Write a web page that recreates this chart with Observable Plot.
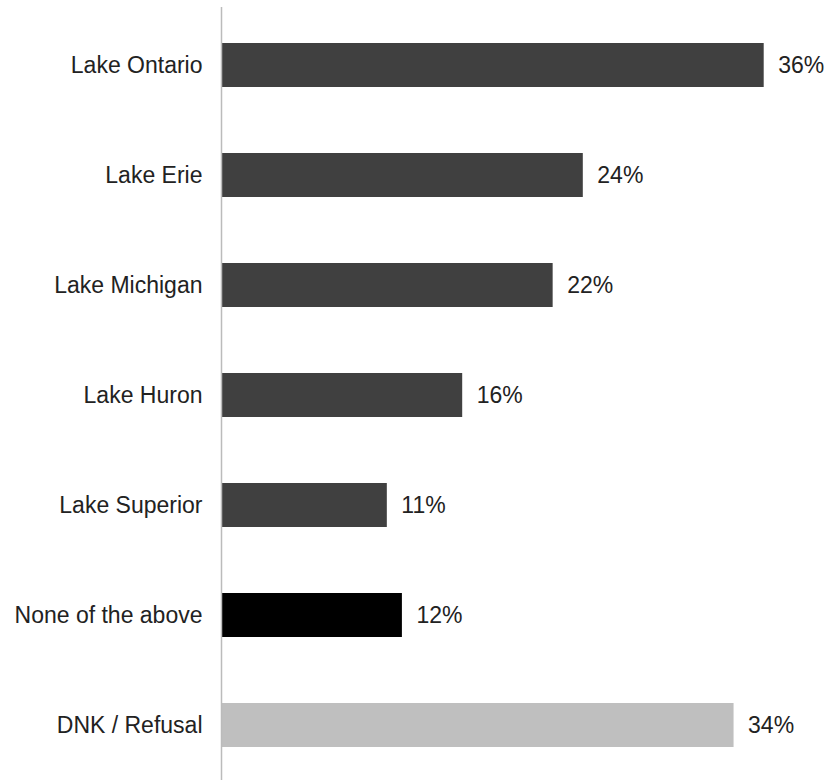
<!DOCTYPE html>
<html>
<head>
<meta charset="utf-8">
<script src="https://cdn.jsdelivr.net/npm/d3@7"></script>
<script src="https://cdn.jsdelivr.net/npm/@observablehq/plot@0.6"></script>
<style>
  html, body { margin: 0; padding: 0; background: #fff; }
  #chart svg { display: block; }
</style>
</head>
<body>
<div id="chart"></div>
<script>
const categories = ["Lake Ontario", "Lake Erie", "Lake Michigan", "Lake Huron", "Lake Superior", "None of the above", "DNK / Refusal"];
const values = [36, 24, 22, 16, 11, 12, 34];
const colors = ["#404040", "#404040", "#404040", "#404040", "#404040", "#000000", "#bfbfbf"];

const data = categories.map((c, i) => ({category: c, value: values[i], color: colors[i]}));

const chart = Plot.plot({
  width: 827,
  height: 780,
  marginLeft: 221,
  marginRight: 3,
  marginTop: 7,
  marginBottom: -2,
  style: {fontFamily: "'Liberation Sans', Arial, sans-serif", fontSize: "23px", color: "#222"},
  x: {domain: [0, 40], axis: null},
  y: {domain: categories, paddingInner: 0.6, paddingOuter: 0.3, label: null, tickSize: 0, tickPadding: 19},
  marks: [
    Plot.barX(data, {y: "category", x: "value", fill: "color"}),
    Plot.ruleX([0], {stroke: "#bbbbbb", strokeWidth: 1.5}),
    Plot.text(data, {y: "category", x: "value", text: d => d.value + "%", textAnchor: "start", dx: 14, fill: "#222", fontSize: 23})
  ]
});
document.getElementById("chart").appendChild(chart);
</script>
</body>
</html>
